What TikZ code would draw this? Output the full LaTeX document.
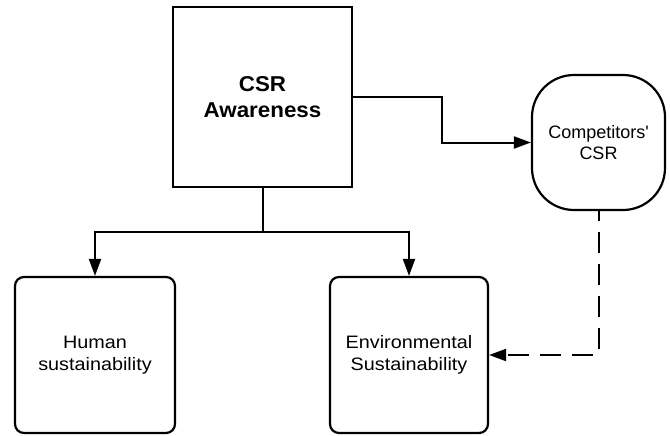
\documentclass[tikz,border=0pt]{standalone}
\usepackage{fontspec}
\setmainfont{Liberation Sans}[Ligatures=TeXOff]
\newfontfamily\widesans{Liberation Sans}[Ligatures=TeXOff,FakeStretch=1.1]
\newfontfamily\boldsans{Liberation Sans}[Ligatures=TeXOff,FakeStretch=1.04]
\usetikzlibrary{arrows.meta}
\begin{document}
\begin{tikzpicture}[x=1pt,y=-1pt,
  box/.style={draw=black,line width=2.2pt,fill=white,align=center,inner sep=0pt},
  bigbox/.style={box,minimum width=179pt,minimum height=180pt,
    font=\boldsans\fontsize{21.5}{26}\selectfont\bfseries},
  soft/.style={box,rounded corners=9pt,font=\widesans\fontsize{18}{22.4}\selectfont},
  blob/.style={box,rounded corners=42pt,font=\fontsize{18}{21.7}\selectfont},
  tip/.style={-{Triangle[length=17pt,width=12pt]}},
  link/.style={line width=2pt,tip},
  plain/.style={line width=2pt},
  dashlink/.style={line width=2pt,dash pattern=on 21pt off 11pt,dash phase=11pt,tip}]
\useasboundingbox (0,0) rectangle (670,436);

\node[bigbox] (csr) at (262.5,97) {CSR\\Awareness};
\node[blob,minimum width=133pt,minimum height=135pt] (comp) at (598.5,142.5) {Competitors'\\CSR};
\node[soft,minimum width=160pt,minimum height=156pt] (human) at (95,355) {Human\\sustainability};
\node[soft,minimum width=158pt,minimum height=156pt] (env) at (409,355) {Environmental\\Sustainability};

\coordinate (bend) at (442,97);
\coordinate (split) at (262.5,232);

\draw[link] (csr.east) -- (bend) |- (comp.west);
\draw[plain] (csr.south) -- (split);
\draw[link] (split) -| (human.north);
\draw[link] (split) -| (env.north);
\draw[dashlink] (comp.south) |- (env.east);
\end{tikzpicture}
\end{document}
